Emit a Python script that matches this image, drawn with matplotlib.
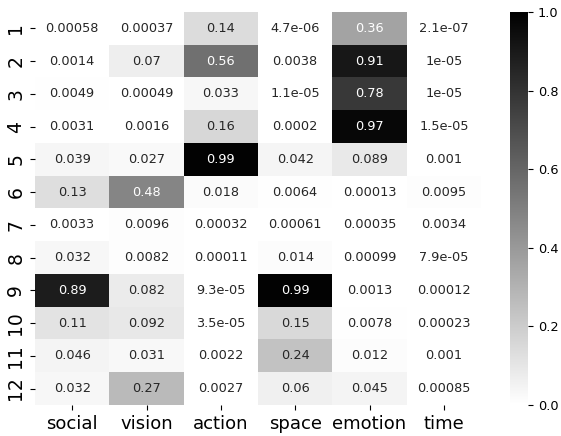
import matplotlib
matplotlib.use("Agg")
import matplotlib.pyplot as plt
import seaborn as sns
import numpy as np
import pandas as pd

columns = ["social", "vision", "action", "space", "emotion", "time"]
rows = [str(i) for i in range(1, 13)]

social  = [0.00058, 0.0014, 0.0049, 0.0031, 0.039, 0.13, 0.0033, 0.032, 0.89, 0.11, 0.046, 0.032]
vision  = [0.00037, 0.07, 0.00049, 0.0016, 0.027, 0.48, 0.0096, 0.0082, 0.082, 0.092, 0.031, 0.27]
action  = [0.14, 0.56, 0.033, 0.16, 0.99, 0.018, 0.00032, 0.00011, 9.3e-05, 3.5e-05, 0.0022, 0.0027]
space   = [4.7e-06, 0.0038, 1.1e-05, 0.0002, 0.042, 0.0064, 0.00061, 0.014, 0.99, 0.15, 0.24, 0.06]
emotion = [0.36, 0.91, 0.78, 0.97, 0.089, 0.00013, 0.00035, 0.00099, 0.0013, 0.0078, 0.012, 0.045]
time_   = [2.1e-07, 1e-05, 1e-05, 1.5e-05, 0.001, 0.0095, 0.0034, 7.9e-05, 0.00012, 0.00023, 0.001, 0.00085]

df = pd.DataFrame({"social": social, "vision": vision, "action": action,
                   "space": space, "emotion": emotion, "time": time_}, index=rows)[columns]

fig = plt.figure(figsize=(5.61, 4.36), dpi=100)
ax = fig.add_axes([35/561, 31/436, 446/561, 393/436])
cax = fig.add_axes([510/561, 31/436, 18/561, 393/436])

sns.heatmap(df, ax=ax, cbar_ax=cax, cmap="gray_r", vmin=0, vmax=1, annot=True,
            fmt=".2g", annot_kws={"fontsize": 9.3})

ax.set_xticklabels(columns, fontsize=13, rotation=0)
ax.set_yticklabels(rows, fontsize=13.5, rotation=90, va="center")
cax.tick_params(labelsize=9.3)
cax.set_yticks([0.0, 0.2, 0.4, 0.6, 0.8, 1.0])

fig.savefig("out.png", dpi=100)
